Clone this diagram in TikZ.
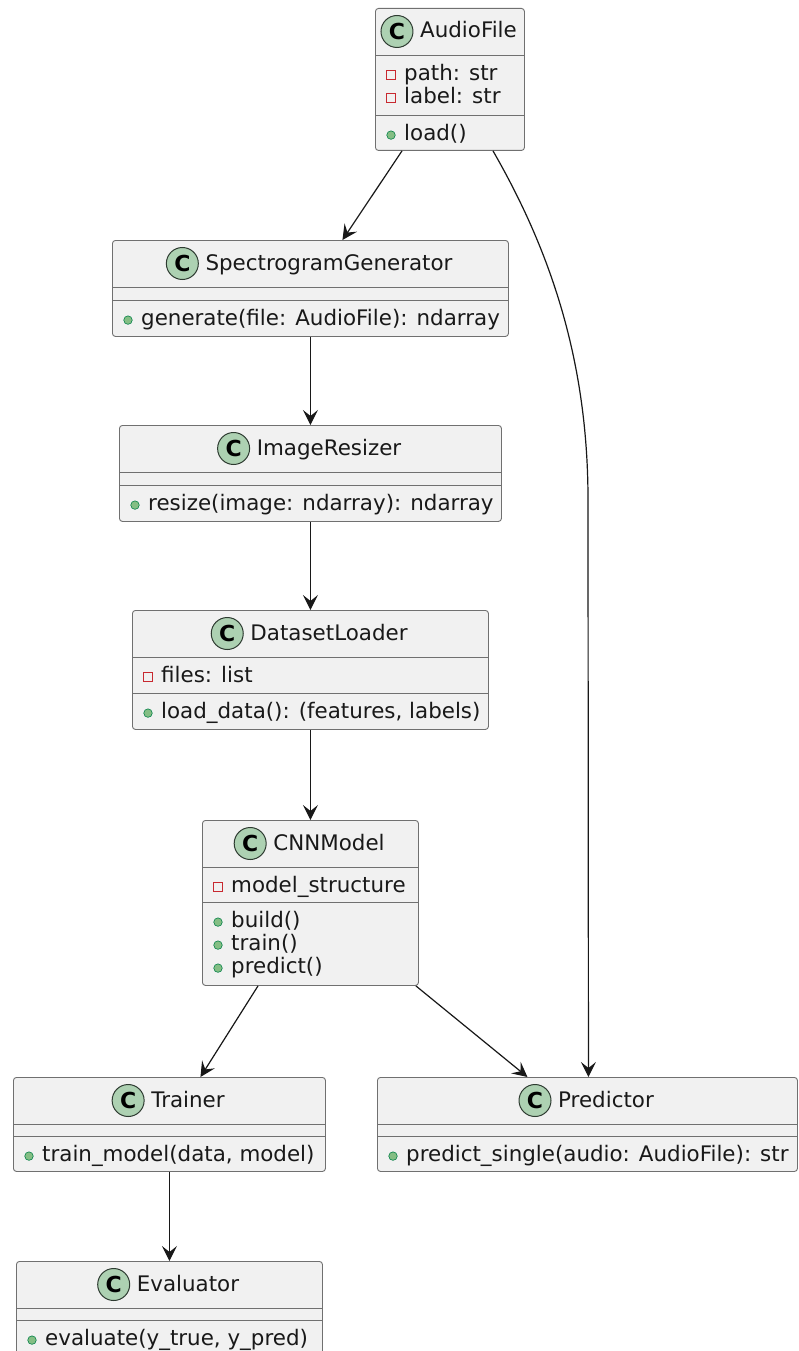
\documentclass[tikz,border=0pt]{standalone}
\usepackage{fontspec}
\setmainfont{DejaVu Sans}
\usetikzlibrary{arrows.meta,calc}

\definecolor{boxfill}{HTML}{F1F1F1}
\definecolor{boxline}{HTML}{707070}
\definecolor{iconfill}{HTML}{ADD1B2}
\definecolor{iconline}{HTML}{2E3B31}
\definecolor{privline}{HTML}{C82930}
\definecolor{pubfill}{HTML}{84BE84}
\definecolor{publine}{HTML}{038048}
\definecolor{arrowcol}{HTML}{181818}

\tikzset{
  classbox/.style={draw=boxline, fill=boxfill, line width=0.9pt, rounded corners=3pt,
    anchor=north west, inner sep=0pt},
  sepline/.style={draw=boxline, line width=0.9pt},
  classname/.style={font=\fontsize{21.4}{25}\selectfont, anchor=base, inner sep=0pt, text=black!90},
  member/.style={font=\fontsize{21.4}{25}\selectfont, anchor=base west, inner sep=0pt, text=black!90},
  classicon/.style={circle, draw=iconline, fill=iconfill, line width=1pt, minimum size=32pt,
    inner sep=0pt, font=\bfseries\fontsize{22}{22}\selectfont},
  privmark/.style={draw=privline, minimum size=8.5pt, inner sep=0pt, line width=0.8pt},
  pubmark/.style={circle, draw=publine, fill=pubfill, minimum size=8.5pt, inner sep=0pt, line width=0.6pt},
  link/.style={draw=arrowcol, line width=1.2pt, -{Stealth[length=15pt,width=15pt,inset=6pt]}},
}

% class frame: id, title, left, top, right, bottom, first separator, second separator
\newcommand\umlclass[8]{%
  \node[classbox, minimum width={(#5-#3)*1pt}, minimum height={(#6-#4)*1pt}] (#1) at (#3,#4) {};
  \coordinate (#1-s1) at (#3,#7);
  \coordinate (#1-s2) at (#3,#8);
  \draw[sepline] (#1-s1) -- (#1.east |- #1-s1);
  \draw[sepline] (#1-s2) -- (#1.east |- #1-s2);
  \node[classname] (#1-title) at ({(#3+#5)/2+19},{#4+30}) {#2};
  \node[classicon] (#1-icon) at ($(#1-title.base west)+(-23,-6.5)$) {C};
}
% private field: id, class left edge, baseline, text
\newcommand\umlfield[4]{%
  \node[privmark] (#1-v) at ({#2+16},{#3-5.5}) {};
  \node[member] (#1) at ({#2+29},#3) {#4};
}
% public operation: id, class left edge, baseline, text
\newcommand\umlop[4]{%
  \node[pubmark] (#1-v) at ({#2+16},{#3-5.5}) {};
  \node[member] (#1) at ({#2+29},#3) {#4};
}

\begin{document}
\begin{tikzpicture}[x=1pt,y=-1pt]
  \clip (0,0) rectangle (798,1351);
  \fill[white] (0,0) rectangle (798,1351);

  % AudioFile
  \umlclass{audio}{AudioFile}{375}{8}{524}{150}{55}{115}
  \umlfield{audio-path}{375}{80.6}{path: str}
  \umlfield{audio-label}{375}{103.6}{label: str}
  \umlop{audio-load}{375}{140.6}{load()}

  % SpectrogramGenerator
  \umlclass{spec}{SpectrogramGenerator}{112}{240}{508}{336}{287}{300}
  \umlop{spec-gen}{112}{325.6}{generate(file: AudioFile): ndarray}

  % ImageResizer
  \umlclass{resize}{ImageResizer}{119}{425}{501}{521}{472}{485}
  \umlop{resize-op}{119}{510.6}{resize(image: ndarray): ndarray}

  % DatasetLoader
  \umlclass{loader}{DatasetLoader}{132}{610}{488}{729}{657}{693}
  \umlfield{loader-files}{132}{682.6}{files: list}
  \umlop{loader-load}{132}{718.6}{load\_data(): (features, labels)}

  % CNNModel
  \umlclass{cnn}{CNNModel}{202}{820}{418}{985}{867}{902}
  \umlfield{cnn-struct}{202}{892.6}{model\_structure}
  \umlop{cnn-build}{202}{927.6}{build()}
  \umlop{cnn-train}{202}{950.6}{train()}
  \umlop{cnn-predict}{202}{973.6}{predict()}

  % Trainer
  \umlclass{trainer}{Trainer}{13}{1077}{325}{1171}{1124}{1136}
  \umlop{trainer-op}{13}{1161.6}{train\_model(data, model)}

  % Predictor
  \umlclass{predictor}{Predictor}{377}{1077}{797}{1171}{1124}{1136}
  \umlop{predictor-op}{377}{1161.6}{predict\_single(audio: AudioFile): str}

  % Evaluator
  \umlclass{evaluator}{Evaluator}{16}{1261}{322}{1370}{1308}{1320}
  \umlop{evaluator-op}{16}{1345.6}{evaluate(y\_true, y\_pred)}

  % associations
  \coordinate (bend) at (588,500);
  \draw[link] ([xshift=27pt]audio.south west) -- ([xshift=32pt]spec.north);
  \draw[link] ([xshift=118pt]audio.south west) .. controls (550,250) and (588,360) .. (bend)
    -- ([xshift=1pt]predictor.north);
  \draw[link] (spec.south) -- (resize.north);
  \draw[link] (resize.south) -- (loader.north);
  \draw[link] (loader.south) -- (cnn.north);
  \draw[link] ([xshift=56pt]cnn.south west) -- ([xshift=31pt]trainer.north);
  \draw[link] ([xshift=-3pt]cnn.south east) -- ([xshift=-60pt]predictor.north);
  \draw[link] (trainer.south) -- (evaluator.north);
\end{tikzpicture}
\end{document}
